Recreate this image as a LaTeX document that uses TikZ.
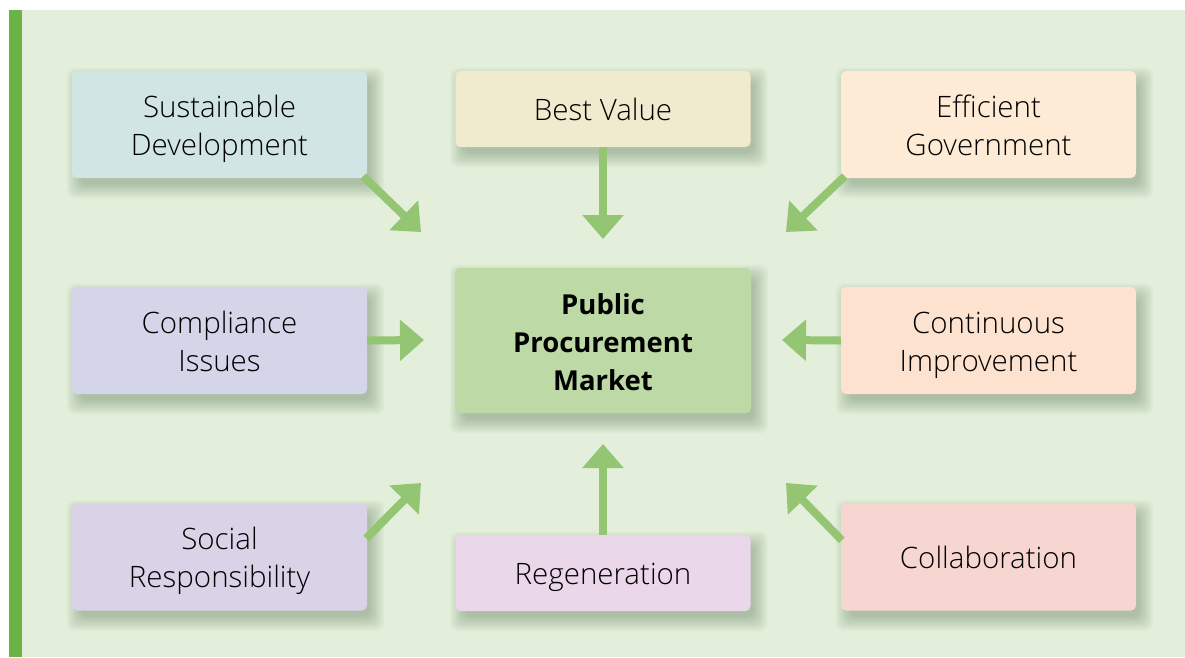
\documentclass[tikz,border=0pt]{standalone}
\usepackage{fontspec}
\setmainfont{Open Sans}[UprightFont={* Light}, BoldFont={* Bold}]
\usetikzlibrary{arrows.meta,backgrounds}
\definecolor{bgc}{HTML}{E3EFDA}
\definecolor{barc}{HTML}{6AB344}
\definecolor{arrc}{HTML}{93C572}
\definecolor{cSD}{HTML}{D0E5E4}
\definecolor{cBV}{HTML}{F0EACF}
\definecolor{cEG}{HTML}{FDEBD5}
\definecolor{cCI}{HTML}{D5D5EA}
\definecolor{cPP}{HTML}{BCD9A6}
\definecolor{cCO}{HTML}{FDE2D0}
\definecolor{cSR}{HTML}{DAD3E8}
\definecolor{cRG}{HTML}{EBD7EA}
\definecolor{cCL}{HTML}{F7D6D2}
\newcommand{\ls}{\rule[-7.4pt]{0pt}{38pt}}
\tikzset{
  box/.style={rounded corners=5pt, minimum width=295pt, minimum height=107pt, align=center,
    font=\fontsize{29.5}{38}\selectfont, text=black, inner sep=0pt},
  flowarr/.style={draw=arrc, line width=8pt, -{Triangle[width=40pt,length=24pt]}, arrc},
  shadowlayer/.style={fill=black!60!green!40!black, opacity=0.032, rounded corners=8pt}
}
\begin{document}
\begin{tikzpicture}[x=1pt,y=-1pt]
\useasboundingbox (0,0) rectangle (1185,657);
\node[box, fill=cSD] (sd) at (219.5,124.5) {Sustainable\ls\\Development\ls};
\node[box, fill=cBV, minimum height=76pt] (bv) at (603,109) {Best Value\ls};
\node[box, fill=cEG] (eg) at (988.5,124.5) {Efficient\ls\\Government\ls};
\node[box, fill=cCI] (ci) at (219.5,340.5) {Compliance\ls\\Issues\ls};
\node[box, fill=cPP, minimum width=296pt, minimum height=145pt, font=\fontsize{27.5}{38}\selectfont\bfseries] (pp) at (603,340.5) {Public\ls\\Procurement\ls\\Market\ls};
\node[box, fill=cCO] (co) at (988.5,340.5) {Continuous\ls\\Improvement\ls};
\node[box, fill=cSR] (sr) at (219.5,557) {Social\ls\\Responsibility\ls};
\node[box, fill=cRG, minimum height=76pt] (rg) at (603,573) {Regeneration\ls};
\node[box, fill=cCL] (cl) at (988.5,557) {Collaboration\ls};
\begin{pgfonlayer}{background}
\fill[white] (0,0) rectangle (1185,657);
\fill[bgc] (9,10) rectangle (1185,657);
\fill[barc] (9,10) rectangle (22,657);
\foreach \n in {sd,bv,eg,ci,pp,co,sr,rg,cl}{
  \foreach \e in {-3,-1,...,11}{
    \fill[shadowlayer] ([shift={(6-\e,8-\e)}]\n.north west) rectangle ([shift={(6+\e,9+\e)}]\n.south east);
  }
}
\end{pgfonlayer}
\coordinate (t1) at (421,232);
\coordinate (t2) at (603,239);
\coordinate (t3) at (786,232);
\coordinate (t4) at (424,340);
\coordinate (t5) at (782,340);
\coordinate (t6) at (421,483);
\coordinate (t7) at (603,444);
\coordinate (t8) at (786,483);
\draw[flowarr] (sd.south east) ++(-4,-2) -- (t1);
\draw[flowarr] (bv.south) -- (t2);
\draw[flowarr] (eg.south west) ++(4,-2) -- (t3);
\draw[flowarr] (ci.east) -- (t4);
\draw[flowarr] (co.west) -- (t5);
\draw[flowarr] (sr.north east) ++(-1,35) -- (t6);
\draw[flowarr] (rg.north) -- (t7);
\draw[flowarr] (cl.north west) ++(1,37) -- (t8);
\end{tikzpicture}
\end{document}
